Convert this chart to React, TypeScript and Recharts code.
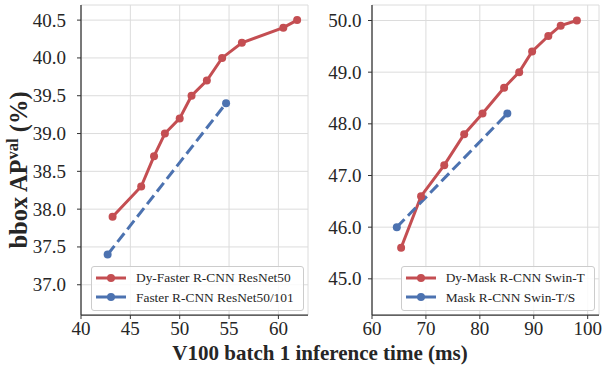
import React from "react";
import {
  LineChart,
  Line,
  XAxis,
  YAxis,
  CartesianGrid,
  Legend,
} from "recharts";

// left panel: Faster R-CNN family
const dyFasterX = [43.2, 46.1, 47.4, 48.5, 50.0, 51.2, 52.75, 54.3, 56.3, 60.5, 61.9];
const dyFasterY = [37.9, 38.3, 38.7, 39.0, 39.2, 39.5, 39.7, 40.0, 40.2, 40.4, 40.5];
const fasterX = [42.7, 54.7];
const fasterY = [37.4, 39.4];

// right panel: Mask R-CNN family
const dyMaskX = [65.4, 69.1, 73.4, 77.1, 80.5, 84.5, 87.3, 89.7, 92.7, 95.0, 98.0];
const dyMaskY = [45.6, 46.6, 47.2, 47.8, 48.2, 48.7, 49.0, 49.4, 49.7, 49.9, 50.0];
const maskX = [64.6, 85.1];
const maskY = [46.0, 48.2];

const leftXTicks = [40, 45, 50, 55, 60];
const leftYTicks = [37.0, 37.5, 38.0, 38.5, 39.0, 39.5, 40.0, 40.5];
const rightXTicks = [60, 70, 80, 90, 100];
const rightYTicks = [45.0, 46.0, 47.0, 48.0, 49.0, 50.0];

const RED = "#c44e52";
const BLUE = "#4c72b0";
const FRAME = "#333333";
const FONT = "Liberation Serif";

const zip = (xs: number[], ys: number[]) => xs.map((x, i) => ({ x, y: ys[i] }));

const XTick = ({ x, y, payload }: any) => (
  <text x={x} y={y + 14} textAnchor="middle" fontFamily={FONT} fontSize={19} fill="#262626">
    {payload.value}
  </text>
);

const makeYTick = (gap: number) => ({ x, y, payload }: any) => (
  <text x={x - gap} y={y + 6.5} textAnchor="end" fontFamily={FONT} fontSize={19} fill="#262626">
    {Number(payload.value).toFixed(1)}
  </text>
);

const LegendBox = ({ items }: { items: { label: string; color: string }[] }) => (
  <div
    style={{
      border: "1px solid #cccccc",
      borderRadius: 3,
      background: "rgba(255,255,255,0.85)",
      padding: "1px 9px 3px 4px",
      fontFamily: FONT,
      fontSize: 13.4,
      color: "#262626",
      lineHeight: "19.5px",
      whiteSpace: "nowrap",
    }}
  >
    {items.map((it) => (
      <div key={it.label} style={{ display: "flex", alignItems: "center" }}>
        <svg width={30} height={12} style={{ marginRight: 10 }}>
          <line x1={0} y1={6} x2={30} y2={6} stroke={it.color} strokeWidth={3} />
          <circle cx={15} cy={6} r={4} fill={it.color} />
        </svg>
        {it.label}
      </div>
    ))}
  </div>
);

type PanelProps = {
  left: number;
  width: number;
  yAxisWidth: number;
  tickGapY: number;
  xDomain: [number, number];
  yDomain: [number, number];
  xTicks: number[];
  yTicks: number[];
  dyData: { x: number; y: number }[];
  baseData: { x: number; y: number }[];
  dyName: string;
  baseName: string;
  legendPos: { left: number; top: number };
};

const Panel = (p: PanelProps) => (
  <LineChart
    width={p.width}
    height={366}
    margin={{ top: 5, right: p.width - p.yAxisWidth - 227, bottom: 21, left: 0 }}
    style={{ position: "absolute", left: p.left, top: 0 }}
  >
    <CartesianGrid stroke="#dcdcdc" strokeWidth={1} />
    <XAxis
      type="number"
      dataKey="x"
      domain={p.xDomain}
      ticks={p.xTicks}
      allowDataOverflow
      height={30}
      tick={<XTick />}
      tickSize={4}
      axisLine={{ stroke: FRAME, strokeWidth: 1.25 }}
      tickLine={{ stroke: FRAME }}
    />
    <XAxis
      xAxisId="top"
      orientation="top"
      type="number"
      domain={p.xDomain}
      height={0}
      tick={false}
      tickLine={false}
      axisLine={{ stroke: FRAME, strokeWidth: 1.25 }}
    />
    <YAxis
      type="number"
      domain={p.yDomain}
      ticks={p.yTicks}
      allowDataOverflow
      width={p.yAxisWidth}
      tick={makeYTick(p.tickGapY)}
      tickSize={4}
      axisLine={{ stroke: FRAME, strokeWidth: 1.25 }}
      tickLine={{ stroke: FRAME }}
    />
    <YAxis
      yAxisId="right"
      orientation="right"
      type="number"
      domain={p.yDomain}
      width={0}
      tick={false}
      tickLine={false}
      axisLine={{ stroke: FRAME, strokeWidth: 1.25 }}
    />
    <Line
      data={p.dyData}
      dataKey="y"
      name={p.dyName}
      stroke={RED}
      strokeWidth={3}
      dot={{ r: 4, fill: RED, stroke: RED, strokeWidth: 0 }}
      isAnimationActive={false}
    />
    <Line
      data={p.baseData}
      dataKey="y"
      name={p.baseName}
      stroke={BLUE}
      strokeWidth={3}
      strokeDasharray="11 5"
      dot={{ r: 4, fill: BLUE, stroke: BLUE, strokeWidth: 0 }}
      isAnimationActive={false}
    />
    <Legend
      layout="vertical"
      align="center"
      verticalAlign="middle"
      wrapperStyle={{ left: p.legendPos.left, top: p.legendPos.top, width: "auto" }}
      content={() => (
        <LegendBox
          items={[
            { label: p.dyName, color: RED },
            { label: p.baseName, color: BLUE },
          ]}
        />
      )}
    />
  </LineChart>
);

export default function App() {
  return (
    <div style={{ position: "absolute", left: 0, top: 0, width: 603, height: 366, background: "#fff" }}>
      <Panel
        left={0}
        width={320}
        yAxisWidth={81}
        tickGapY={9}
        xDomain={[40, 63]}
        yDomain={[36.6, 40.7]}
        xTicks={leftXTicks}
        yTicks={leftYTicks}
        dyData={zip(dyFasterX, dyFasterY)}
        baseData={zip(fasterX, fasterY)}
        dyName="Dy-Faster R-CNN ResNet50"
        baseName="Faster R-CNN ResNet50/101"
        legendPos={{ left: 91, top: 266 }}
      />
      <Panel
        left={320}
        width={283}
        yAxisWidth={52}
        tickGapY={4.5}
        xDomain={[60, 102.1]}
        yDomain={[44.3, 50.3]}
        xTicks={rightXTicks}
        yTicks={rightYTicks}
        dyData={zip(dyMaskX, dyMaskY)}
        baseData={zip(maskX, maskY)}
        dyName="Dy-Mask R-CNN Swin-T"
        baseName="Mask R-CNN Swin-T/S"
        legendPos={{ left: 80.7, top: 266 }}
      />
      <svg
        width={603}
        height={366}
        style={{ position: "absolute", left: 0, top: 0, pointerEvents: "none" }}
      >
        <text
          x={320}
          y={360}
          textAnchor="middle"
          fontFamily={FONT}
          fontWeight="bold"
          fontSize={21}
          fill="#262626"
        >
          V100 batch 1 inference time (ms)
        </text>
        <text
          transform="translate(27,170) rotate(-90)"
          textAnchor="middle"
          fontFamily={FONT}
          fontWeight="bold"
          fontSize={24.5}
          fill="#262626"
        >
          bbox AP
          <tspan dy={-9} fontSize={16.5}>val</tspan>
          <tspan dy={9}> (%)</tspan>
        </text>
      </svg>
    </div>
  );
}
